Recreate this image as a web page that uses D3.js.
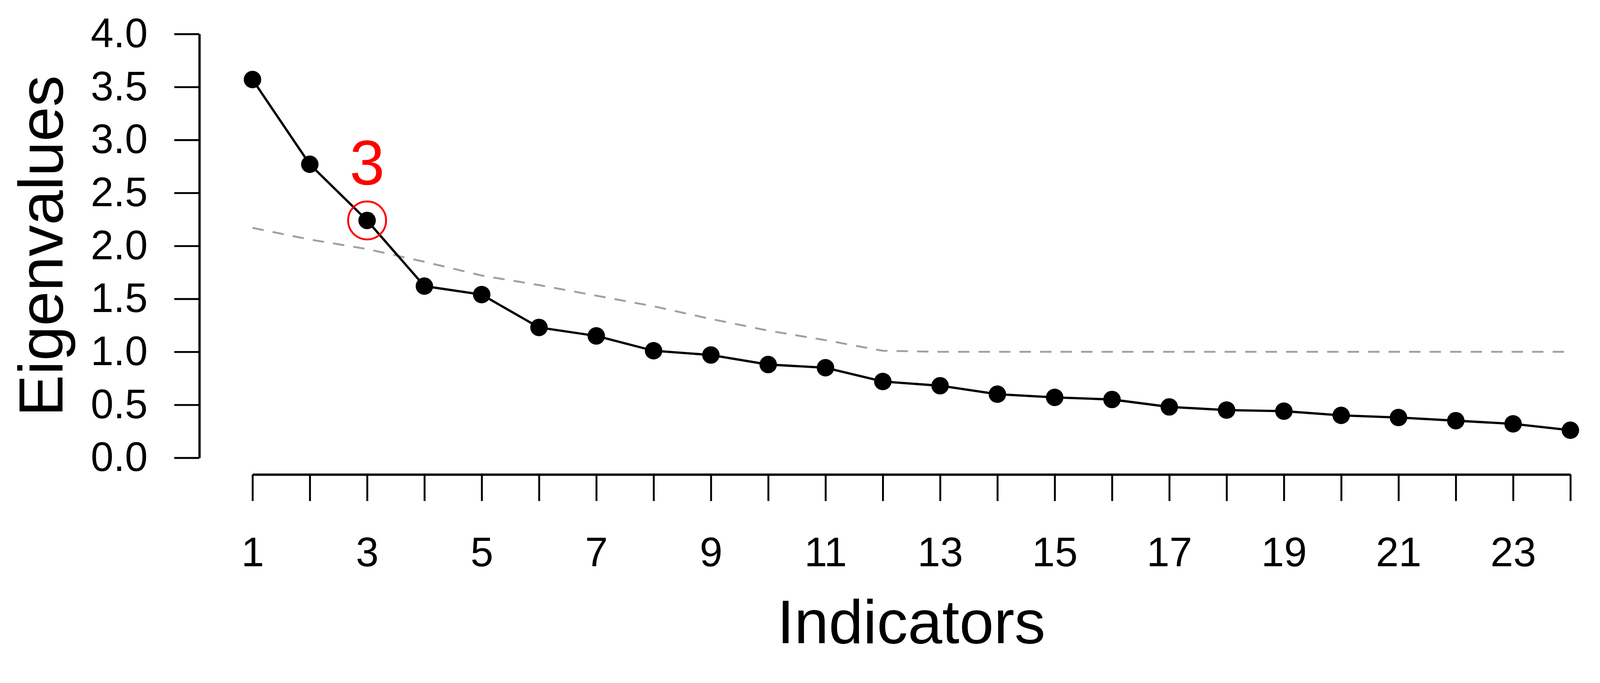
<!DOCTYPE html>
<html>
<script src="https://d3js.org/d3.v7.min.js"></script>
<head>
    <title>Scree plot</title>
    <meta charset="UTF-8">
    <style type="text/css">
        html, body { margin: 0; padding: 0; background: #fff; overflow: hidden; }
        svg { display: block; }
        text { font-family: "Liberation Sans", Arial, sans-serif; }
        .axis path, .axis line {
            fill: none;
            stroke: #000;
            stroke-width: 5;
        }
        .axis path { stroke-width: 6; }
        .axis text { font-size: 108px; fill: #000; }
    </style>
</head>
<body>
<script type="text/javascript">
    // data
    var indicators = d3.range(1, 25);
    var eigenvalues = [3.57, 2.77, 2.24, 1.62, 1.54, 1.23, 1.15, 1.01, 0.97, 0.88, 0.85, 0.72,
                       0.68, 0.60, 0.57, 0.55, 0.48, 0.45, 0.44, 0.40, 0.38, 0.35, 0.32, 0.26];
    var reference = [2.17, 2.06, 1.97, 1.85, 1.72, 1.63, 1.53, 1.43, 1.31, 1.20, 1.11, 1.01,
                     1.00, 1.00, 1.00, 1.00, 1.00, 1.00, 1.00, 1.00, 1.00, 1.00, 1.00, 1.00];
    var yTicks = [0, 0.5, 1, 1.5, 2, 2.5, 3, 3.5, 4];
    var xLabelled = [1, 3, 5, 7, 9, 11, 13, 15, 17, 19, 21, 23];
    var marked = 3;

    var width = 4214, height = 1749;

    var x = d3.scaleLinear().domain([1, 24]).range([665, 4136]);
    var y = d3.scaleLinear().domain([0, 4]).range([1206, 89.5]);

    // scale to whatever the window really is, pinned to the top
    var svg = d3.select("body")
        .append("svg")
            .attr("width", "100vw")
            .attr("height", "100vh")
            .attr("viewBox", "0 0 " + width + " " + height)
            .attr("preserveAspectRatio", "xMidYMin meet");

    // y axis
    svg.append("g")
        .attr("class", "axis")
        .attr("transform", "translate(525,0)")
        .call(d3.axisLeft(y)
            .tickValues(yTicks)
            .tickFormat(d3.format(".1f"))
            .tickSize(66)
            .tickSizeOuter(0)
            .tickPadding(70));

    // x axis
    svg.append("g")
        .attr("class", "axis")
        .attr("transform", "translate(0,1250)")
        .call(d3.axisBottom(x)
            .tickValues(indicators)
            .tickFormat(function (d) { return xLabelled.indexOf(d) >= 0 ? d : ""; })
            .tickSize(70)
            .tickSizeOuter(0)
            .tickPadding(95));

    var valueLine = d3.line()
        .x(function (d, i) { return x(indicators[i]); })
        .y(function (d) { return y(d); });

    // reference (dashed) line
    svg.append("path")
        .attr("d", valueLine(reference))
        .attr("fill", "none")
        .attr("stroke", "#a0a0a0")
        .attr("stroke-width", 5)
        .attr("stroke-dasharray", "30,24");

    // eigenvalue line + points
    svg.append("path")
        .attr("d", valueLine(eigenvalues))
        .attr("fill", "none")
        .attr("stroke", "#000")
        .attr("stroke-width", 6);

    svg.selectAll("circle.pt")
        .data(eigenvalues)
        .enter().append("circle")
            .attr("class", "pt")
            .attr("cx", function (d, i) { return x(indicators[i]); })
            .attr("cy", function (d) { return y(d); })
            .attr("r", 23)
            .attr("fill", "#000");

    // highlighted point
    svg.append("circle")
        .attr("cx", x(marked))
        .attr("cy", y(eigenvalues[marked - 1]))
        .attr("r", 50)
        .attr("fill", "none")
        .attr("stroke", "#ff0000")
        .attr("stroke-width", 5);

    svg.append("text")
        .attr("x", x(marked))
        .attr("y", y(eigenvalues[marked - 1]) - 95)
        .attr("text-anchor", "middle")
        .attr("fill", "#ff0000")
        .style("font-size", "166px")
        .text(marked);

    // axis titles
    svg.append("text")
        .attr("transform", "translate(165,648) rotate(-90)")
        .attr("text-anchor", "middle")
        .style("font-size", "165px")
        .text("Eigenvalues");

    svg.append("text")
        .attr("x", 2400)
        .attr("y", 1694)
        .attr("text-anchor", "middle")
        .style("font-size", "163px")
        .text("Indicators");
</script>
</body>
</html>
